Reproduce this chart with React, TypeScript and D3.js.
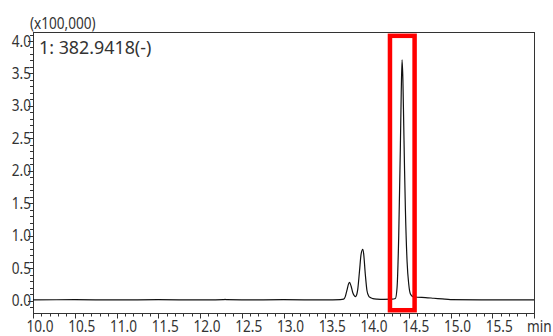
import React, { useEffect, useRef } from 'react';
import * as d3 from 'd3';

// retention time (min) of each sampled point
const times = [
  10.0, 10.5, 11.0, 11.5, 12.0, 12.28, 12.3, 12.32, 12.5, 13.0, 13.5, 13.68,
  13.72, 13.74, 13.76, 13.78, 13.79, 13.81, 13.83, 13.85, 13.86, 13.87, 13.89,
  13.91, 13.93, 13.95, 13.96, 13.98, 14.0, 14.02, 14.04, 14.07, 14.12, 14.2,
  14.3, 14.34, 14.36, 14.38, 14.4, 14.41, 14.42, 14.43, 14.44, 14.45, 14.46,
  14.48, 14.5, 14.52, 14.55, 14.6, 14.7, 14.8, 14.9, 15.0, 15.5, 16.0,
];
// intensity (x100,000)
const intensities = [
  0.01, 0.012, 0.01, 0.012, 0.01, 0.012, 0.016, 0.012, 0.01, 0.012, 0.01, 0.014,
  0.02, 0.06, 0.16, 0.26, 0.28, 0.22, 0.12, 0.07, 0.06, 0.07, 0.18,
  0.45, 0.72, 0.79, 0.72, 0.4, 0.15, 0.07, 0.045, 0.03, 0.022, 0.018,
  0.02, 0.03, 0.2, 1.0, 2.4, 3.2, 3.71, 3.4, 2.7, 2.0, 1.4,
  0.6, 0.25, 0.1, 0.06, 0.05, 0.045, 0.035, 0.025, 0.015, 0.01, 0.01,
];

const xTicks = [10.0, 10.5, 11.0, 11.5, 12.0, 12.5, 13.0, 13.5, 14.0, 14.5, 15.0, 15.5];
const yTicks = [0.0, 0.5, 1.0, 1.5, 2.0, 2.5, 3.0, 3.5, 4.0];

// highlighted window around the target peak
const boxTimes = [14.275, 14.57];
const boxIntensity = [-0.15, 4.08];

const App = () => {
  const svgRef = useRef(null);

  useEffect(() => {
    const svg = d3.select(svgRef.current);
    svg.selectAll('*').remove();

    const width = 553;
    const height = 336;
    const left = 33, right = 534, top = 32, bottom = 313;
    const ink = '#333';
    const font = "'Noto Sans', sans-serif";

    svg.attr('width', width).attr('height', height);

    const x = d3.scaleLinear().domain([10, 16]).range([left, right]);
    const y = d3.scaleLinear().domain([0, 4]).range([300.5, 41]);

    // frame
    svg.append('rect')
      .attr('x', left + 0.5).attr('y', top + 0.5)
      .attr('width', right - left).attr('height', bottom - top)
      .attr('fill', 'none').attr('stroke', ink).attr('stroke-width', 1);

    // x ticks (every 0.1 min)
    const xMinor = d3.range(0, 61).map(i => 10 + i * 0.1);
    svg.append('g').selectAll('line')
      .data(xMinor)
      .enter().append('line')
      .attr('x1', d => Math.round(x(d)) + 0.5).attr('x2', d => Math.round(x(d)) + 0.5)
      .attr('y1', bottom)
      .attr('y2', (d, i) => bottom + (i % 5 === 0 ? 5.5 : 3.5))
      .attr('stroke', ink);

    svg.append('g').selectAll('text')
      .data(xTicks)
      .enter().append('text')
      .attr('transform', d => `translate(${x(d) + 7},332) scale(0.85,1)`)
      .attr('text-anchor', 'middle')
      .style('font-family', font).style('font-size', '16px').style('fill', ink)
      .text(d => d.toFixed(1));

    svg.append('text')
      .attr('transform', `translate(527,332) scale(0.85,1)`)
      .style('font-family', font).style('font-size', '16px').style('fill', ink)
      .text('min');

    // y ticks (every 0.1)
    const yMinor = d3.range(-1, 42).map(i => i * 0.1);
    svg.append('g').selectAll('line')
      .data(yMinor)
      .enter().append('line')
      .attr('y1', d => Math.round(y(d)) + 0.5).attr('y2', d => Math.round(y(d)) + 0.5)
      .attr('x1', left)
      .attr('x2', (d, i) => left - ((i - 1) % 5 === 0 ? 5 : 3))
      .attr('stroke', ink);

    svg.append('g').selectAll('text')
      .data(yTicks)
      .enter().append('text')
      .attr('transform', d => `translate(31,${y(d) + 5.5}) scale(0.85,1)`)
      .attr('text-anchor', 'end')
      .style('font-family', font).style('font-size', '16px').style('fill', ink)
      .text(d => d.toFixed(1));

    svg.append('text')
      .attr('transform', `translate(30,29) scale(0.85,1)`)
      .style('font-family', font).style('font-size', '16px').style('fill', ink)
      .text('(x100,000)');

    svg.append('text')
      .attr('transform', `translate(39,54) scale(0.94,1)`)
      .style('font-family', font).style('font-size', '19px').style('fill', ink)
      .text('1: 382.9418(-)');

    // chromatogram trace
    const pts = times.map((t, i) => [t, intensities[i]]);
    const line = d3.line()
      .x(d => x(d[0]))
      .y(d => y(d[1]))
      .curve(d3.curveMonotoneX);

    svg.append('path')
      .datum(pts)
      .attr('d', line)
      .attr('fill', 'none')
      .attr('stroke', '#111')
      .attr('stroke-width', 1.2);

    // red highlight box
    svg.append('rect')
      .attr('x', x(boxTimes[0]))
      .attr('y', y(boxIntensity[1]))
      .attr('width', x(boxTimes[1]) - x(boxTimes[0]))
      .attr('height', y(boxIntensity[0]) - y(boxIntensity[1]))
      .attr('fill', 'none')
      .attr('stroke', '#ff0000')
      .attr('stroke-width', 4.5);
  }, []);

  return (
    <svg ref={svgRef} style={{ position: 'absolute', left: 0, top: 0 }} />
  );
};

export default App;
